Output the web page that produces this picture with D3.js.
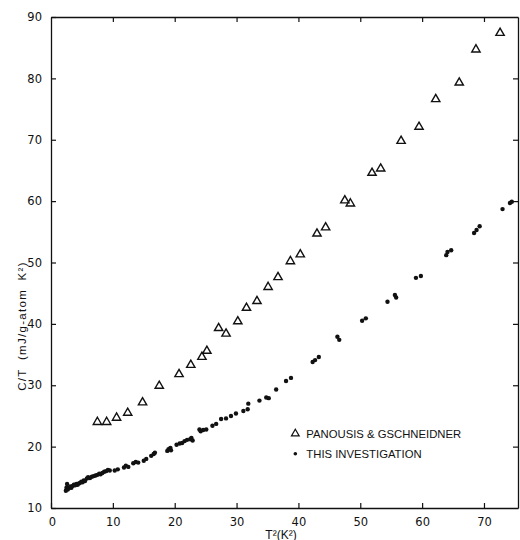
<!DOCTYPE html>
<html>
<head>
<meta charset="utf-8">
<script src="https://cdn.jsdelivr.net/npm/d3@7"></script>
<style>
  body { margin: 0; background: #fff; }
  text { fill: #111; }
</style>
</head>
<body>
<div id="vis"></div>
<script>
// Panousis & Gschneidner (open triangles)
var panousisT2 = [7.5, 9.0, 10.6, 12.4, 14.8, 17.5, 20.7, 22.6, 24.4, 25.2, 27.1, 28.3, 30.2, 31.6, 33.3,
  35.1, 36.7, 38.7, 40.3, 43.0, 44.4, 47.5, 48.4, 51.9, 53.3, 56.6, 59.5, 62.2, 66.0, 68.7, 72.6];
var panousisCT = [24.0, 24.0, 24.7, 25.5, 27.2, 29.9, 31.8, 33.3, 34.6, 35.6, 39.3, 38.4, 40.4, 42.6, 43.7,
  46.0, 47.6, 50.2, 51.3, 54.7, 55.7, 60.1, 59.6, 64.6, 65.3, 69.8, 72.1, 76.6, 79.3, 84.7, 87.4];

// this investigation (filled dots)
var thisT2 = [2.4, 2.5, 2.6, 2.7, 2.9, 3.1, 3.3, 3.5, 3.7, 3.9, 4.1, 4.3, 4.5, 4.7, 4.9, 5.1, 5.3, 5.5, 5.8, 6.0,
  6.3, 6.6, 6.9, 7.2, 7.5, 7.8, 8.0, 8.3, 8.6, 8.9, 9.2, 9.5, 10.3, 10.8, 11.8, 12.1, 12.5, 13.3, 13.7, 14.1,
  15.0, 15.4, 16.2, 16.6, 16.8, 18.8, 19.0, 19.3, 19.4, 20.3, 20.8, 21.2, 21.6, 22.0, 22.5, 22.7, 22.9,
  24.0, 24.2, 24.6, 25.1, 26.1, 26.7, 27.5, 28.3, 29.1, 29.9, 31.1, 31.8, 31.9, 33.7, 34.8, 35.2, 36.4,
  38.0, 38.8, 42.3, 42.7, 43.3, 46.3, 46.6, 50.3, 50.9, 54.4, 55.6, 55.8, 59.0, 59.8, 63.9, 64.1, 64.7,
  68.4, 68.8, 69.3, 73.0, 74.2, 74.5];
var thisCT = [12.8, 13.3, 13.9, 13.0, 13.2, 13.5, 13.3, 13.6, 13.8, 13.7, 13.9, 13.8, 14.0, 14.1, 14.3, 14.2, 14.5, 14.4, 14.8, 15.0,
  14.9, 15.1, 15.2, 15.3, 15.4, 15.6, 15.5, 15.7, 15.9, 16.0, 16.2, 16.1, 16.1, 16.3, 16.6, 16.9, 16.7, 17.3, 17.5, 17.4,
  17.7, 18.0, 18.5, 18.8, 19.0, 19.3, 19.6, 19.8, 19.4, 20.3, 20.5, 20.6, 20.9, 21.1, 21.2, 21.4, 21.0,
  22.8, 22.5, 22.7, 22.8, 23.4, 23.7, 24.5, 24.6, 25.0, 25.4, 25.8, 26.1, 27.0, 27.5, 28.0, 27.9, 29.3,
  30.7, 31.2, 33.8, 34.1, 34.6, 37.9, 37.4, 40.5, 40.9, 43.6, 44.7, 44.3, 47.5, 47.8, 51.2, 51.7, 52.0,
  54.8, 55.3, 55.9, 58.7, 59.7, 59.9];

var xTicks = [0, 10, 20, 30, 40, 50, 60, 70];
var yTicks = [10, 20, 30, 40, 50, 60, 70, 80, 90];
var legendLabels = ["PANOUSIS & GSCHNEIDNER", "THIS INVESTIGATION"];

var margin = {top: 17, right: 2, bottom: 32, left: 51};
var width = 520 - margin.left - margin.right;
var height = 540 - margin.top - margin.bottom;

var svg = d3.select("#vis")
  .append("svg")
    .attr("width", 520)
    .attr("height", 540);

var g = svg.append("g")
  .attr("transform", "translate(" + margin.left + "," + margin.top + ")");

var x = d3.scaleLinear().domain([0, 75.5]).range([0, width]);
var y = d3.scaleLinear().domain([10, 90]).range([height, 0]);

var tickFont = "'DejaVu Sans', sans-serif";
var labelFont = "'Liberation Sans', Arial, sans-serif";

// axes: inward ticks on all four sides, labels on left and bottom only
var xBottom = d3.axisBottom(x).tickValues(xTicks).tickSizeInner(-5).tickSizeOuter(0).tickPadding(10);
var xTop = d3.axisTop(x).tickValues(xTicks.slice(1)).tickSizeInner(-5).tickSizeOuter(0).tickFormat("");
var yLeft = d3.axisLeft(y).tickValues(yTicks).tickSizeInner(-5).tickSizeOuter(0).tickPadding(9);
var yRight = d3.axisRight(y).tickValues(yTicks.slice(1, -1)).tickSizeInner(-5).tickSizeOuter(0).tickFormat("");

g.append("g").attr("class", "x axis")
  .attr("transform", "translate(0," + height + ")")
  .call(xBottom);
g.append("g").attr("class", "x axis top").call(xTop);
g.append("g").attr("class", "y axis").call(yLeft);
g.append("g").attr("class", "y axis right")
  .attr("transform", "translate(" + width + ",0)")
  .call(yRight);

g.selectAll(".axis path").attr("stroke", "#111").attr("stroke-width", 1.3);
g.selectAll(".axis line").attr("stroke", "#111").attr("stroke-width", 1.2);
g.selectAll(".axis text")
  .style("font-family", tickFont)
  .style("font-size", "11.5px")
  .attr("fill", "#111");
g.select(".x.axis").selectAll(".tick text").attr("dx", function(d) { return d == 0 ? 1 : 0; });

var tri = d3.symbol().type(d3.symbolTriangle).size(30);

g.selectAll(".panousis")
  .data(panousisT2)
  .enter()
  .append("path")
    .attr("class", "panousis")
    .attr("d", tri)
    .attr("transform", function(d, i) {
      return "translate(" + x(d) + "," + y(panousisCT[i]) + ")";
    })
    .attr("fill", "none")
    .attr("stroke", "#111")
    .attr("stroke-width", 1.4);

g.selectAll(".ours")
  .data(thisT2)
  .enter()
  .append("circle")
    .attr("class", "ours")
    .attr("cx", function(d) { return x(d); })
    .attr("cy", function(d, i) { return y(thisCT[i]); })
    .attr("r", 2.2)
    .attr("fill", "#111");

// legend
var legend = g.append("g")
  .attr("transform", "translate(" + x(39.5) + "," + y(22.1) + ")");

legend.append("path")
  .attr("d", d3.symbol().type(d3.symbolTriangle).size(26))
  .attr("fill", "none")
  .attr("stroke", "#111")
  .attr("stroke-width", 1.2);

legend.append("circle")
  .attr("cx", 0)
  .attr("cy", 20)
  .attr("r", 1.8)
  .attr("fill", "#111");

legend.selectAll("text")
  .data(legendLabels)
  .enter()
  .append("text")
    .attr("x", 11)
    .attr("y", function(d, i) { return 4 + i * 20; })
    .style("font-family", labelFont)
    .style("font-size", "11.3px")
    .text(function(d) { return d; });

// axis titles
svg.append("text")
  .attr("x", 281)
  .attr("y", 538.5)
  .attr("text-anchor", "middle")
  .style("font-family", labelFont)
  .style("font-size", "12px")
  .text("T²(K²)");

svg.append("text")
  .attr("transform", "translate(26,326) rotate(-90)")
  .attr("text-anchor", "middle")
  .style("font-family", labelFont)
  .style("font-size", "11.5px")
  .style("letter-spacing", "1.3px")
  .style("word-spacing", "4px")
  .text("C/T (mJ/g-atom K²)");
</script>
</body>
</html>
